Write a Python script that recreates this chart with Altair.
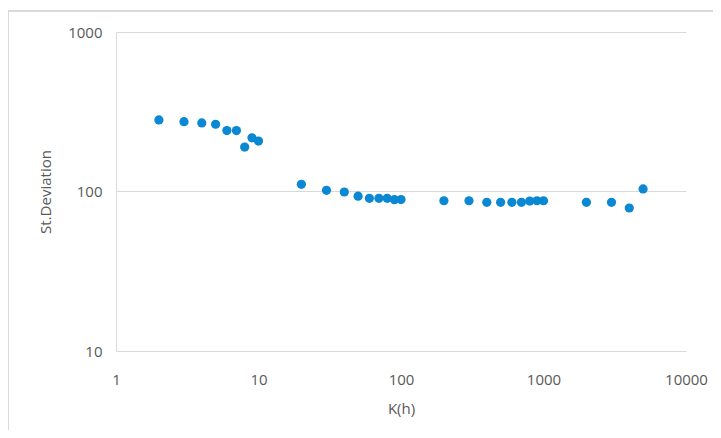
import altair as alt
import pandas as pd

k_values = [2, 3, 4, 5, 6, 7, 8, 9, 10, 20, 30, 40, 50, 60, 70, 80, 90, 100,
            200, 300, 400, 500, 600, 700, 800, 900, 1000, 2000, 3000, 4000, 5000]
st_dev = [281, 274, 269, 264, 241, 241, 190, 217, 207, 111, 101.7, 99.3, 93.4,
          90.6, 90.6, 90.6, 88.9, 89, 87.5, 87.5, 85.5, 85.5, 85.5, 85.5, 87.1,
          87.5, 87.5, 85.5, 85.5, 78.8, 103.7]
x_ticks = [1, 10, 100, 1000, 10000]
y_ticks = [10, 100, 1000]

df = pd.DataFrame({"K": k_values, "SD": st_dev})

FONT = "Open Sans"
GREY = "#595959"
LINE = "#d9d9d9"

points = alt.Chart(df).mark_circle(size=85, opacity=1, color="#0B88D3").encode(
    x=alt.X("K:Q", scale=alt.Scale(type="log", domain=[1, 10000]),
            axis=alt.Axis(title="K(h)", values=x_ticks, format="d", grid=False,
                          ticks=False, domainColor=LINE, labelPadding=21,
                          labelFlush=False, labelOverlap=False,
                          titlePadding=14)),
    y=alt.Y("SD:Q", scale=alt.Scale(type="log", domain=[10, 1000]),
            axis=alt.Axis(title="St.Deviation", values=y_ticks, format="d",
                          grid=True, gridColor=LINE, ticks=False,
                          labelFlush=False, labelOverlap=False,
                          domainColor=LINE, labelPadding=14, titlePadding=14)),
)

frame = alt.Chart(df).mark_rect(fill=None, stroke=LINE, strokeWidth=1).encode(
    x=alt.value(-108), x2=alt.value(720), y=alt.value(-21), y2=alt.value(500)
)

chart = alt.layer(frame, points).properties(
    width=570, height=319,
    autosize=alt.AutoSizeParams(type="none"),
    padding={"left": 108, "top": 24, "right": 27, "bottom": 79},
).configure_view(stroke=None).configure_axis(
    labelFont=FONT, titleFont=FONT, labelColor=GREY, titleColor=GREY,
    labelFontSize=15, titleFontSize=15, titleFontWeight="normal",
)

chart.save("out.html", embed_options={"renderer": "svg", "actions": False})
